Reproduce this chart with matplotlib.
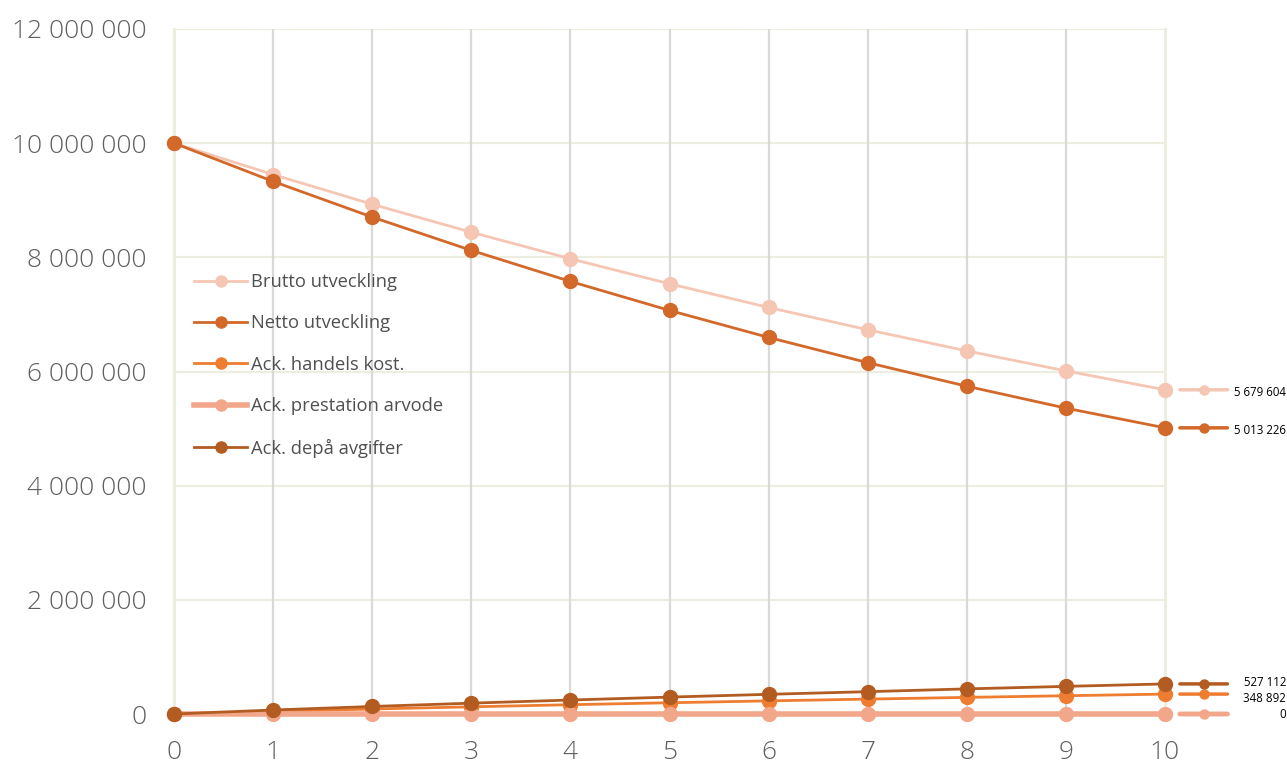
import matplotlib
matplotlib.use("Agg")
import matplotlib.pyplot as plt
from matplotlib.lines import Line2D
from matplotlib.ticker import FuncFormatter

plt.rcParams['font.family'] = ['Open Sans', 'DejaVu Sans']

years = list(range(11))
brutto = [10000000, 9450000, 8930000, 8440000, 7975000, 7537000,
          7122000, 6731000, 6361000, 6011000, 5679604]
netto = [10000000, 9330000, 8705000, 8122000, 7578000, 7070000,
         6597000, 6155000, 5742000, 5358000, 5013226]
handel = [0, 45000, 87000, 126000, 163000, 197000,
          230000, 261000, 291000, 320000, 348892]
prestation = [0, 0, 0, 0, 0, 0, 0, 0, 0, 0, 0]
depa = [0, 70000, 132000, 190000, 245000, 296000,
        345000, 391000, 440000, 484000, 527112]

names = ["Brutto utveckling", "Netto utveckling", "Ack. handels kost.",
         "Ack. prestation arvode", "Ack. depå avgifter"]
colors = ["#F5C6B3", "#D2692A", "#EE7D31", "#F2A78B", "#B35C22"]
widths = [2.0, 2.0, 2.0, 4.0, 2.0]
series = [brutto, netto, handel, prestation, depa]
# vertical nudge (points) for the end labels so they don't collide
label_shift = [-2, -2, -3, 0, 1]

fig = plt.figure(figsize=(12.87, 7.63), dpi=100)
ax = fig.add_axes([174 / 1287, 49 / 763, 991 / 1287, 685 / 763])

ax.set_xlim(0, 10)
ax.set_ylim(0, 12000000)
ax.set_xticks(years)
ax.set_yticks(range(0, 12000001, 2000000))
ax.yaxis.set_major_formatter(FuncFormatter(lambda v, p: f"{int(v):,}".replace(",", " ")))

grid_beige = "#EEEEE0"
grid_gray = "#D9D9D9"
for yv in range(2000000, 12000001, 2000000):
    ax.axhline(yv, color=grid_beige, lw=1.6, zorder=0)
for xv in range(1, 10):
    ax.axvline(xv, color=grid_gray, lw=1.6, zorder=0.5)
for sp in ["top", "bottom"]:
    ax.spines[sp].set_visible(False)
for sp in ["left", "right"]:
    ax.spines[sp].set_color(grid_beige)
    ax.spines[sp].set_linewidth(2.2)

ax.tick_params(axis="both", length=0, labelsize=19, labelcolor="#5F5F5F")
ax.tick_params(axis="y", pad=20)
ax.tick_params(axis="x", pad=19)
for lab in ax.get_xticklabels() + ax.get_yticklabels():
    lab.set_fontweight("light")

handles = []
for i, (vals, name, c, w) in enumerate(zip(series, names, colors, widths)):
    ax.plot(years, vals, color=c, lw=w, marker="o", ms=10, zorder=3 + i,
            clip_on=False, solid_capstyle="round")
    handles.append(Line2D([0], [0], color=c, lw=w, marker="o", ms=8))

    # end-of-line value label with its own key
    yv = vals[-1]
    ax.annotate("", xy=(10.63, yv), xytext=(10.15, yv),
                textcoords="data",
                arrowprops=dict(arrowstyle="-", color=c, lw=2.5 if w < 3 else 3.5,
                                shrinkA=0, shrinkB=0),
                annotation_clip=False)
    ax.plot([10.39], [yv], marker="o", ms=6.5, color=c, clip_on=False,
            zorder=10)
    ax.annotate(f"{yv:,}".replace(",", " "), xy=(11.22, yv),
                xytext=(0, label_shift[i]), textcoords="offset points",
                ha="right", va="center", fontsize=8.3, color="#000000",
                annotation_clip=False)

leg = ax.legend(handles, names, loc="upper left",
                bbox_to_anchor=(0.004, 0.668), frameon=False,
                fontsize=13.2, labelspacing=1.28, handlelength=2.85,
                handletextpad=0.25, labelcolor="#505050")

fig.savefig("out.png", dpi=100)
